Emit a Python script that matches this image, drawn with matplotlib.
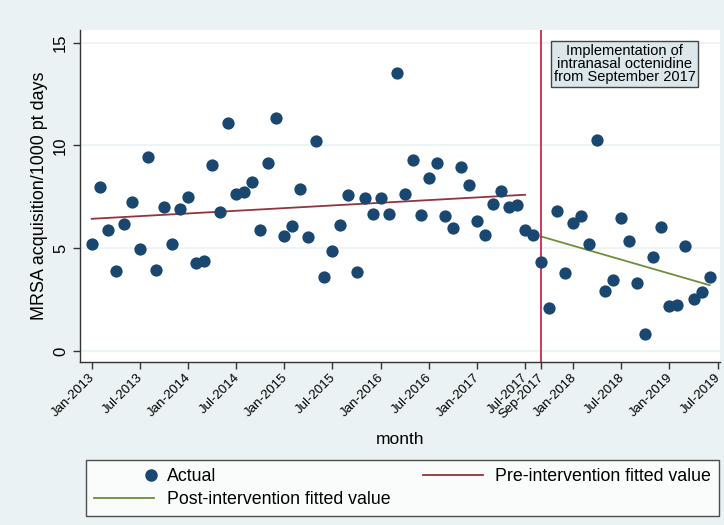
import numpy as np
import matplotlib
matplotlib.use("Agg")
import matplotlib.pyplot as plt
import matplotlib.transforms as mtransforms
from matplotlib.lines import Line2D
from matplotlib.legend_handler import HandlerBase

plt.rcParams['font.family'] = ['Liberation Sans', 'DejaVu Sans']

# monthly MRSA acquisition rate, Jan-2013 .. Jun-2019 (month index 0 = Jan-2013)
rate = [5.20, 7.99, 5.88, 3.87, 6.20, 7.26, 4.95, 9.45, 3.96, 7.00, 5.18, 6.92,
        7.47, 4.30, 4.40, 9.03, 6.74, 11.10, 7.65, 7.73, 8.22, 5.88, 9.16, 11.33,
        5.59, 6.09, 7.88, 5.54, 10.20, 3.62, 4.88, 6.11, 7.60, 3.83, 7.45, 6.66,
        7.45, 6.66, 13.51, 7.65, 9.30, 6.61, 8.43, 9.13, 6.58, 5.96, 8.96, 8.09,
        6.30, 5.65, 7.16, 7.80, 7.00, 7.11, 5.88, 5.65, 4.34, 2.08, 6.79, 3.78,
        6.25, 6.56, 5.21, 10.28, 2.91, 3.43, 6.46, 5.34, 3.31, 0.80, 4.58, 6.04,
        2.19, 2.23, 5.13, 2.52, 2.85, 3.62]
months = np.arange(len(rate))

# fitted segments (start/end month, start/end value)
pre_x = [0, 54]
pre_y = [6.43, 7.60]
post_x = [56, 77]
post_y = [5.57, 3.20]
intervention = 56

tick_pos = [0, 6, 12, 18, 24, 30, 36, 42, 48, 54, 56, 60, 66, 72, 78]
tick_lab = ['Jan-2013', 'Jul-2013', 'Jan-2014', 'Jul-2014', 'Jan-2015', 'Jul-2015',
            'Jan-2016', 'Jul-2016', 'Jan-2017', 'Jul-2017', 'Sep-2017', 'Jan-2018',
            'Jul-2018', 'Jan-2019', 'Jul-2019']

bg = '#EAF2F3'
navy = '#1A476F'
maroon = '#90353B'
green = '#6E8E3A'
red = '#D0143C'


class RightMarkerHandler(HandlerBase):
    # stata puts the single marker at the right side of the key area
    def create_artists(self, legend, orig_handle, xdescent, ydescent,
                       width, height, fontsize, trans):
        m = Line2D([-xdescent + 0.95 * width], [-ydescent + height / 2],
                   marker='o', ls='none', color=orig_handle.get_color(),
                   markersize=orig_handle.get_markersize(), transform=trans)
        return [m]


fig = plt.figure(figsize=(7.24, 5.25), dpi=100, facecolor=bg)
ax = fig.add_axes([80/724, 1-362/525, 640/724, 332/525])
ax.set_facecolor('white')

ax.set_xlim(-1.46, 78.3)
ax.set_ylim(-0.54, 15.62)

for v in [0, 5, 10, 15]:
    ax.axhline(v, color=bg, lw=1.2, zorder=0)

ax.scatter(months, rate, s=78, color=navy, zorder=3, linewidths=0)
ax.plot(pre_x, pre_y, color=maroon, lw=1.3, zorder=2)
ax.plot(post_x, post_y, color=green, lw=1.3, zorder=2)
ax.axvline(intervention, color=red, lw=1.2, zorder=2)

ax.text(66.4, 13.96, 'Implementation of\nintranasal octenidine\nfrom September 2017',
        ha='center', va='center', fontsize=10.5, linespacing=0.9,
        bbox=dict(boxstyle='square,pad=0.2', facecolor='#DCE7EB', edgecolor='#444444', lw=1))

for s in ['top', 'right']:
    ax.spines[s].set_visible(False)
for s in ['left', 'bottom']:
    ax.spines[s].set_color('#333333')
    ax.spines[s].set_linewidth(1)

ax.set_yticks([0, 5, 10, 15])
ax.set_yticklabels(['0', '5', '10', '15'], rotation=90, va='center', fontsize=12)
ax.set_xticks(tick_pos)
ax.set_xticklabels(tick_lab, rotation=45, ha='right', rotation_mode='anchor', fontsize=9.5)
ax.tick_params(axis='both', length=5, color='#333333', width=1)
ax.tick_params(axis='x', pad=2)
shift = mtransforms.ScaledTranslation(-3/100, 0, fig.dpi_scale_trans)
for lab in ax.get_xticklabels():
    lab.set_transform(lab.get_transform() + shift)

ax.set_ylabel('MRSA acquisition/1000 pt days', fontsize=12.9, labelpad=4)
ax.set_xlabel('month', fontsize=12.5, labelpad=8)

h_actual = Line2D([], [], marker='o', color=navy, ls='none', markersize=8)
h_post = Line2D([], [], color=green, lw=1.3)
h_pre = Line2D([], [], color=maroon, lw=1.3)
handles = [h_actual, h_post, h_pre]
labels = ['Actual', 'Post-intervention fitted value', 'Pre-intervention fitted value']
leg = fig.legend(handles, labels, loc='upper left', ncol=2,
                 bbox_to_anchor=(86/724, 1-460/525),
                 fontsize=12.8, frameon=True, fancybox=False, edgecolor='#222222',
                 handlelength=3.4, labelspacing=0.35, borderpad=0.45, handletextpad=0.7,
                 columnspacing=1.8, borderaxespad=0,
                 handler_map={h_actual: RightMarkerHandler()})
leg.get_frame().set_linewidth(1)

fig.savefig('out.png', dpi=100, facecolor=bg)
